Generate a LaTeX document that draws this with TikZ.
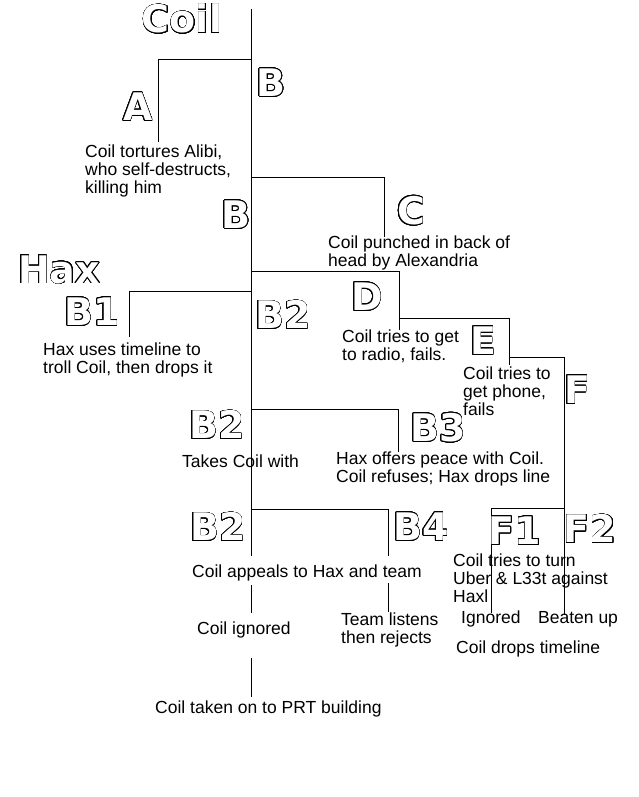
\documentclass[tikz,border=0pt]{standalone}
\usepackage{fontspec}
\setmainfont{Liberation Sans}
\newfontfamily\tagfont{DejaVu Sans}
\usepackage[copies]{contour}
\contourlength{0.65pt}
\contournumber{32}
\newcommand{\hollow}[1]{\contour{black}{\textcolor{white}{#1}}}
\usetikzlibrary{positioning}

\begin{document}
\begin{tikzpicture}[
    x=1pt, y=-1pt,
    tag/.style={inner sep=0pt, font=\tagfont\bfseries\fontsize{38}{38}\selectfont},
    note/.style={inner sep=0pt, anchor=base west, align=left, font=\fontsize{17.5}{18}\selectfont},
    branch/.style={line width=1pt}
]
    \useasboundingbox (0,0) rectangle (639,797);

    % Coil trunk
    \coordinate (top) at (251,9);
    \coordinate (cut1) at (251,556);
    \coordinate (mid1) at (251,585);
    \coordinate (mid2) at (251,613);
    \coordinate (low1) at (251,658);
    \coordinate (low2) at (251,697);
    \draw[branch] (top) -- (cut1) (mid1) -- (mid2) (low1) -- (low2);

    % side branches off the trunk
    \coordinate (jA) at (251,60);
    \coordinate (jC) at (251,177);
    \coordinate (jD) at (251,271);
    \coordinate (jB1) at (251,291);
    \coordinate (jB3) at (251,409);
    \coordinate (jB4) at (251,509);
    \coordinate (eA) at (158,142);
    \coordinate (eC) at (384,237);
    \coordinate (eD) at (399,330);
    \coordinate (eB1) at (129,337);
    \coordinate (eB3) at (398,452);
    \coordinate (eB4) at (388,556);
    \foreach \j/\e in {jA/eA, jC/eC, jD/eD, jB1/eB1, jB3/eB3, jB4/eB4}
        \draw[branch] (\j) -| (\e);

    % D -> E -> F
    \coordinate (jE) at (399,318);
    \coordinate (eE) at (509,365);
    \coordinate (jF) at (509,357);
    \coordinate (eF) at (564,615);
    \draw[branch] (jE) -| (eE);
    \draw[branch] (jF) -| (eF);

    % F1 / F2 split
    \coordinate (jF1) at (564,508);
    \coordinate (eF1) at (491,613);
    \draw[branch] (jF1) -| (eF1);

    % B4 continued
    \coordinate (b4a) at (388,583);
    \coordinate (b4b) at (388,612);
    \draw[branch] (b4a) -- (b4b);

    % outlined labels
    \node[tag] (coil) at (182,19) {\hollow{Coil}};
    \node[tag] (hax) at (59,270) {\hollow{Hax}};
    \node[tag] (tB) at (271,83) {\hollow{B}};
    \node[tag] (tA) at (138,107) {\hollow{A}};
    \node[tag] (tBb) at (236,215) {\hollow{B}};
    \node[tag] (tC) at (411,211) {\hollow{C}};
    \node[tag] (tB1) at (92,312) {\hollow{B1}};
    \node[tag] (tB2) at (283,315) {\hollow{B2}};
    \node[tag] (tD) at (367,297) {\hollow{D}};
    \node[tag] (tE) at (483,341) {\hollow{E}};
    \node[tag] (tF) at (577,390) {\hollow{F}};
    \node[tag] (tB2b) at (217,425) {\hollow{B2}};
    \node[tag] (tB3) at (438,428) {\hollow{B3}};
    \node[tag] (tB2c) at (218,527) {\hollow{B2}};
    \node[tag] (tB4) at (421,527) {\hollow{B4}};
    \node[tag] (tF1) at (515,531) {\hollow{F1}};
    \node[tag] (tF2) at (590,529) {\hollow{F2}};

    % event notes (base = last line)
    \node[note] (nA) at (85,193) {Coil tortures Alibi,\\who self-destructs,\\killing him};
    \node[note] (nC) at (328,266) {Coil punched in back of\\head by Alexandria};
    \node[note] (nD) at (342,360) {Coil tries to get\\to radio, fails.};
    \node[note] (nE) at (463,415) {Coil tries to\\get phone,\\fails};
    \node[note] (nB1) at (43,373) {Hax uses timeline to\\troll Coil, then drops it};
    \node[note] (nB2) at (182,467) {Takes Coil with};
    \node[note] (nB3) at (336,482) {Hax offers peace with Coil.\\Coil refuses; Hax drops line};
    \node[note] (nB2c) at (192,577) {Coil appeals to Hax and team};
    \node[note] (nIgn) at (197,634) {Coil ignored};
    \node[note] (nB4) at (341,643) {Team listens\\then rejects};
    \node[note] (nF) at (453,602) {Coil tries to turn\\Uber \& L33t against\\Haxl};
    \node[note] (nF1) at (461,623) {Ignored};
    \node[note] (nF2) at (538,623) {Beaten up};
    \node[note] (nDrop) at (456,653) {Coil drops timeline};
    \node[note] (nPRT) at (155,713) {Coil taken on to PRT building};
\end{tikzpicture}
\end{document}
